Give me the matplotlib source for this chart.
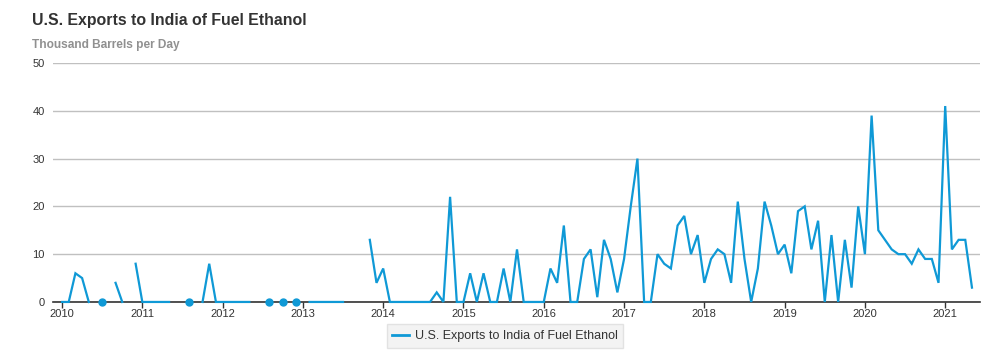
import numpy as np
import matplotlib
matplotlib.use('Agg')
from matplotlib import pyplot as plt
from matplotlib.lines import Line2D

plt.rcParams['font.family'] = ['Liberation Sans', 'DejaVu Sans']

nan = np.nan

# 月次データ (Thousand Barrels per Day)，欠測は nan
start_year = 2010
values_2010 = [0, 0, 6, 5, 0, nan, 0, nan, 4, 0, nan, 8]
values_2011 = [0, 0, 0, 0, 0, nan, nan, 0, nan, 0, 8, 0]
values_2012 = [0, 0, 0, 0, 0, nan, nan, 0, nan, 0, nan, 0]
values_2013 = [nan, 0, 0, 0, 0, 0, 0, nan, nan, nan, 13, 4]
values_2014 = [7, 0, 0, 0, 0, 0, 0, 0, 2, 0, 22, 0]
values_2015 = [0, 6, 0, 6, 0, 0, 7, 0, 11, 0, 0, 0]
values_2016 = [0, 7, 4, 16, 0, 0, 9, 11, 1, 13, 9, 2]
values_2017 = [9, 20, 30, 0, 0, 10, 8, 7, 16, 18, 10, 14]
values_2018 = [4, 9, 11, 10, 4, 21, 9, 0, 7, 21, 16, 10]
values_2019 = [12, 6, 19, 20, 11, 17, 0, 14, 0, 13, 3, 20]
values_2020 = [10, 39, 15, 13, 11, 10, 10, 8, 11, 9, 9, 4]
values_2021 = [41, 11, 13, 13, 3]

series_name = 'U.S. Exports to India of Fuel Ethanol'
year_ticks = list(range(2010, 2022))

values = np.array(values_2010 + values_2011 + values_2012 + values_2013 + values_2014
                  + values_2015 + values_2016 + values_2017 + values_2018 + values_2019
                  + values_2020 + values_2021, dtype=float)
x = start_year + np.arange(len(values)) / 12

# 前後が欠測の孤立点はマーカーで描く
valid = ~np.isnan(values)
prev_ok = np.concatenate([[False], valid[:-1]])
next_ok = np.concatenate([valid[1:], [False]])
isolated = valid & ~prev_ok & ~next_ok

blue = '#0f99d6'
fig = plt.figure(figsize=(10, 3.54), dpi=100)
ax = fig.add_axes([0.053, 0.147, 0.927, 0.675])

ax.plot(x, values, color=blue, lw=1.6, solid_joinstyle='miter', zorder=3, clip_on=False)
ax.plot(x[isolated], values[isolated], 'o', color=blue, ms=5, zorder=4, clip_on=False)

ax.set_xlim(start_year - 1.35 / 12, start_year + 137.2 / 12)
ax.set_ylim(0, 50)
ax.set_yticks(range(0, 51, 10))
ax.set_xticks(year_ticks)
ax.set_xticklabels([str(y) for y in year_ticks])

ax.grid(axis='y', color='#c0c0c0', lw=1)
ax.set_axisbelow(True)
for side in ['top', 'right', 'left']:
    ax.spines[side].set_visible(False)
ax.spines['bottom'].set_color('#333333')
ax.spines['bottom'].set_linewidth(1.2)
ax.spines['bottom'].set_zorder(2)
ax.tick_params(axis='y', length=0, pad=6, labelsize=8, labelcolor='#333333')
ax.tick_params(axis='x', length=4, width=1, color='#333333', pad=1, labelsize=8, labelcolor='#333333')

fig.text(0.032, 0.9435, 'U.S. Exports to India of Fuel Ethanol', fontsize=11.4, fontweight='bold',
         color='#333333', va='center')
fig.text(0.032, 0.873, 'Thousand Barrels per Day', fontsize=8.6, fontweight='bold',
         color='#909090', va='center')

handle = Line2D([], [], color=blue, lw=2)
leg = fig.legend([handle], [series_name], loc='center', bbox_to_anchor=(0.505, 0.051),
                 frameon=True, fontsize=9, handlelength=1.3, handletextpad=0.5,
                 borderpad=0.45, fancybox=False)
leg.get_frame().set_facecolor('#f0f0f0')
leg.get_frame().set_edgecolor('#dddddd')
for t in leg.get_texts():
    t.set_color('#333333')

fig.savefig('out.png', dpi=100)
